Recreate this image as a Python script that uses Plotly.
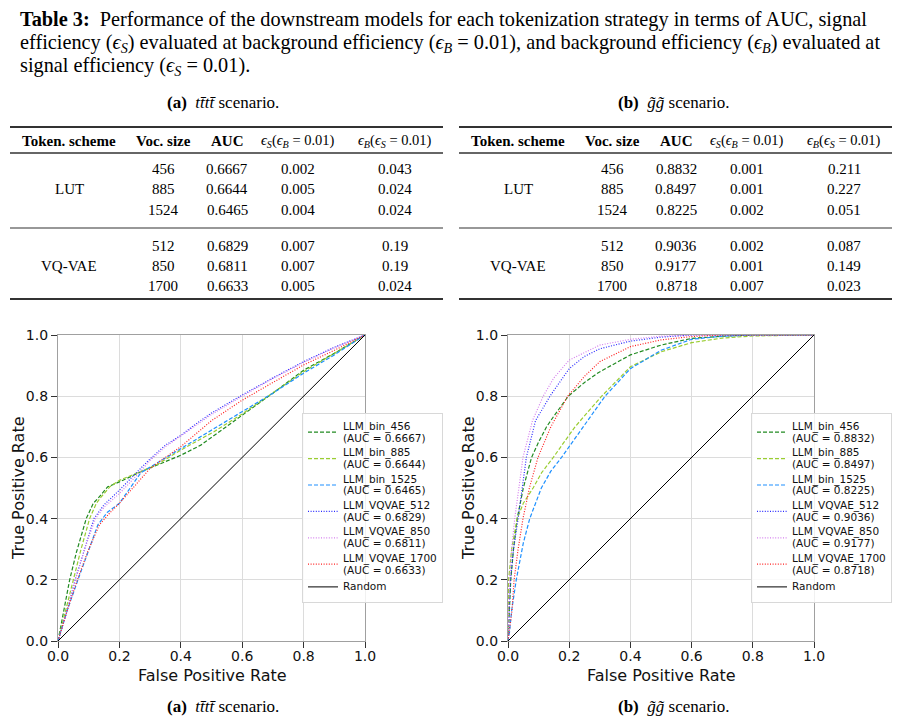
import plotly.graph_objects as go

W, H = 899, 721

# ---------------- data ----------------
table_cols = ["Token. scheme", "Voc. size", "AUC",
              "<i>ϵ<sub>S</sub></i>(<i>ϵ<sub>B</sub></i> = 0.01)",
              "<i>ϵ<sub>B</sub></i>(<i>ϵ<sub>S</sub></i> = 0.01)"]
schemes = ["LUT", "VQ-VAE"]
voc_sizes = [456, 885, 1524, 512, 850, 1700]

auc_tttt = ["0.6667", "0.6644", "0.6465", "0.6829", "0.6811", "0.6633"]
effS_tttt = ["0.002", "0.005", "0.004", "0.007", "0.007", "0.005"]
effB_tttt = ["0.043", "0.024", "0.024", "0.19", "0.19", "0.024"]

auc_gg = ["0.8832", "0.8497", "0.8225", "0.9036", "0.9177", "0.8718"]
effS_gg = ["0.001", "0.001", "0.002", "0.002", "0.001", "0.007"]
effB_gg = ["0.211", "0.227", "0.051", "0.087", "0.149", "0.023"]

model_names = ["LLM_bin_456", "LLM_bin_885", "LLM_bin_1525",
               "LLM_VQVAE_512", "LLM_VQVAE_850", "LLM_VQVAE_1700"]

x_title = "False Positive Rate"
y_title = "True Positive Rate"

# ROC curves, tttt scenario (FPR, TPR)
tttt_fpr = [
    [0, 0.02, 0.038, 0.06, 0.092, 0.115, 0.13, 0.162, 0.2, 0.27, 0.313, 0.4, 0.465, 0.508, 0.6, 0.7, 0.8, 0.9, 1.0],
    [0, 0.025, 0.049, 0.075, 0.103, 0.125, 0.14, 0.17, 0.2, 0.27, 0.32, 0.4, 0.508, 0.6, 0.7, 0.8, 0.9, 1.0],
    [0, 0.03, 0.065, 0.1, 0.13, 0.16, 0.2, 0.27, 0.32, 0.4, 0.5, 0.6, 0.7, 0.8, 0.9, 1.0],
    [0, 0.03, 0.056, 0.09, 0.117, 0.15, 0.2, 0.27, 0.3, 0.35, 0.4, 0.45, 0.5, 0.6, 0.7, 0.8, 0.9, 1.0],
    [0, 0.03, 0.056, 0.09, 0.122, 0.15, 0.2, 0.27, 0.3, 0.35, 0.4, 0.45, 0.5, 0.6, 0.7, 0.8, 0.9, 1.0],
    [0, 0.03, 0.063, 0.1, 0.135, 0.17, 0.2, 0.27, 0.3, 0.35, 0.4, 0.5, 0.6, 0.7, 0.8, 0.9, 1.0],
]
tttt_tpr = [
    [0, 0.1, 0.2, 0.29, 0.4, 0.45, 0.466, 0.504, 0.52, 0.553, 0.57, 0.607, 0.64, 0.672, 0.738, 0.81, 0.885, 0.94, 1.0],
    [0, 0.1, 0.2, 0.3, 0.4, 0.45, 0.47, 0.505, 0.525, 0.553, 0.575, 0.624, 0.684, 0.742, 0.81, 0.88, 0.94, 1.0],
    [0, 0.1, 0.2, 0.3, 0.38, 0.42, 0.45, 0.55, 0.58, 0.63, 0.69, 0.749, 0.81, 0.875, 0.935, 1.0],
    [0, 0.1, 0.2, 0.31, 0.4, 0.445, 0.493, 0.565, 0.595, 0.64, 0.672, 0.71, 0.745, 0.804, 0.86, 0.913, 0.96, 1.0],
    [0, 0.1, 0.2, 0.31, 0.4, 0.437, 0.482, 0.555, 0.59, 0.635, 0.67, 0.705, 0.74, 0.8, 0.858, 0.91, 0.958, 1.0],
    [0, 0.1, 0.2, 0.3, 0.38, 0.42, 0.45, 0.531, 0.564, 0.6, 0.635, 0.72, 0.787, 0.845, 0.902, 0.95, 1.0],
]

# ROC curves, gg scenario (FPR, TPR)
gg_fpr = [
    [0, 0.004, 0.009, 0.018, 0.03, 0.05, 0.077, 0.1, 0.126, 0.15, 0.197, 0.25, 0.295, 0.4, 0.5, 0.6, 0.7, 0.8, 1.0],
    [0, 0.001, 0.002, 0.012, 0.03, 0.05, 0.082, 0.11, 0.148, 0.219, 0.306, 0.4, 0.5, 0.6, 0.7, 0.8, 1.0],
    [0, 0.005, 0.012, 0.027, 0.05, 0.071, 0.109, 0.14, 0.175, 0.246, 0.317, 0.4, 0.5, 0.6, 0.7, 0.8, 1.0],
    [0, 0.003, 0.008, 0.018, 0.033, 0.06, 0.09, 0.137, 0.2, 0.25, 0.3, 0.4, 0.5, 0.6, 1.0],
    [0, 0.002, 0.005, 0.012, 0.022, 0.049, 0.08, 0.115, 0.15, 0.2, 0.3, 0.4, 0.5, 0.6, 1.0],
    [0, 0.006, 0.013, 0.02, 0.033, 0.049, 0.07, 0.098, 0.14, 0.195, 0.25, 0.3, 0.4, 0.5, 0.6, 0.7, 1.0],
]
gg_tpr = [
    [0, 0.1, 0.2, 0.3, 0.4, 0.5, 0.6, 0.65, 0.7, 0.735, 0.8, 0.845, 0.877, 0.935, 0.967, 0.989, 0.996, 1.0, 1.0],
    [0, 0.1, 0.2, 0.3, 0.4, 0.45, 0.5, 0.55, 0.6, 0.7, 0.8, 0.896, 0.945, 0.975, 0.99, 0.997, 1.0],
    [0, 0.03, 0.1, 0.2, 0.32, 0.4, 0.5, 0.555, 0.6, 0.7, 0.8, 0.89, 0.95, 0.986, 0.996, 1.0, 1.0],
    [0, 0.1, 0.2, 0.3, 0.4, 0.6, 0.72, 0.8, 0.89, 0.93, 0.955, 0.98, 0.993, 1.0, 1.0],
    [0, 0.1, 0.2, 0.3, 0.4, 0.6, 0.72, 0.8, 0.86, 0.918, 0.967, 0.986, 0.996, 1.0, 1.0],
    [0, 0.04, 0.1, 0.2, 0.3, 0.4, 0.5, 0.6, 0.7, 0.8, 0.865, 0.913, 0.962, 0.984, 0.995, 1.0, 1.0],
]

colors = ["#228B22", "#9ACD32", "#1E90FF", "#2a2aff", "#d580ee", "#ff2020"]
dashes = ["4px,2px", "4px,2px", "4px,2px", "1px,1.6px", "1px,1.6px", "1px,1.6px"]

# ---------------- helpers ----------------
def PX(x):
    return x / W

def PY(y):
    return 1 - y / H

SERIF = "Liberation Serif"
SANS = "DejaVu Sans"
LEG_TXT = '<span style="font-size:10.5px">{}</span>'

fig = go.Figure()

# ROC traces
for panel, (fprs, tprs, aucs) in enumerate([(tttt_fpr, tttt_tpr, auc_tttt), (gg_fpr, gg_tpr, auc_gg)]):
    xa = "x" if panel == 0 else "x2"
    ya = "y" if panel == 0 else "y2"
    lg = "legend" if panel == 0 else "legend2"
    for i in range(len(model_names)):
        fig.add_trace(go.Scatter(
            x=fprs[i], y=tprs[i], mode="lines", xaxis=xa, yaxis=ya, legend=lg,
            name=LEG_TXT.format(model_names[i]) + "<br>" + LEG_TXT.format(f"(AUC = {aucs[i]})"),
            line=dict(color=colors[i], width=1.2, dash=dashes[i]),
            hoverinfo="skip"))
    fig.add_trace(go.Scatter(
        x=[0, 1], y=[0, 1], mode="lines", xaxis=xa, yaxis=ya, legend=lg,
        name=LEG_TXT.format("Random"), line=dict(color="black", width=1), hoverinfo="skip"))

axis_common = dict(
    range=[0, 1], dtick=0.2, tickformat=".1f", showgrid=True, gridcolor="#dcdcdc",
    gridwidth=1, showline=True, mirror=True, linecolor="#a0a0a0", linewidth=1.2,
    ticks="outside", ticklen=6, tickwidth=1.4, tickcolor="#333", automargin=False,
    tickfont=dict(family=SANS, size=14, color="#111"), zeroline=False)

y_dom = [PY(641), PY(335)]
legend_common = dict(yanchor="top", xanchor="left",
                     bgcolor="rgba(255,255,255,0.85)", bordercolor="#d8d8d8", borderwidth=1,
                     font=dict(family=SANS, size=9, color="#111"), itemwidth=30,
                     tracegroupgap=0)
fig.update_layout(
    width=W, height=H, margin=dict(l=0, r=0, t=0, b=0),
    paper_bgcolor="white", plot_bgcolor="white", showlegend=True,
    xaxis=dict(domain=[PX(58), PX(365)], anchor="y", ticklabelstandoff=-4, **axis_common),
    yaxis=dict(domain=y_dom, anchor="x", **axis_common),
    xaxis2=dict(domain=[PX(508), PX(814)], anchor="y2", ticklabelstandoff=-4, **axis_common),
    yaxis2=dict(domain=y_dom, anchor="x2", **axis_common),
    legend=dict(x=PX(302), y=PY(413), **legend_common),
    legend2=dict(x=PX(751), y=PY(413), **legend_common),
)

annotations = []
shapes = []

def text(x, y, s, size=14, family=SERIF, xanchor="center", color="black", angle=0, align="center"):
    annotations.append(dict(x=PX(x), y=PY(y), xref="paper", yref="paper", text=s,
                            showarrow=False, xanchor=xanchor, yanchor="middle",
                            textangle=angle, align=align,
                            font=dict(family=family, size=size, color=color)))

def hline(x0, x1, y, w):
    shapes.append(dict(type="line", xref="paper", yref="paper", x0=PX(x0), x1=PX(x1),
                       y0=PY(y), y1=PY(y), line=dict(color="#333", width=w)))

# axis titles
for xc in (212, 661):
    text(xc, 675, x_title, size=16, family=SANS, color="#111")
for xc in (18, 468):
    text(xc, 488, y_title, size=16, family=SANS, color="#111", angle=-90)

# caption (line pitch set by outer font size -> ~22.7 px)
cap_lines = [
    "<b>Table 3:</b>  Performance of the downstream models for each tokenization strategy in terms of AUC, signal",
    "efficiency (<i>ϵ<sub>S</sub></i>) evaluated at background efficiency (<i>ϵ<sub>B</sub></i> = 0.01), and background efficiency (<i>ϵ<sub>B</sub></i>) evaluated at",
    "signal efficiency (<i>ϵ<sub>S</sub></i> = 0.01).",
]
caption = "<br>".join(f'<span style="font-size:20.3px">{ln}</span>' for ln in cap_lines)
annotations.append(dict(x=PX(18), y=PY(6), xref="paper", yref="paper", text=caption,
                        showarrow=False, xanchor="left", yanchor="top", align="left",
                        font=dict(family=SERIF, size=17.5, color="black")))

# sub-captions
sub_a = "<b>(a)</b>  <i>tt̄tt̄</i> scenario."
sub_b = "<b>(b)</b>  <i>g̃g̃</i> scenario."
text(223, 103, sub_a, size=17)
text(673, 103, sub_b, size=17)
text(223, 706, sub_a, size=17)
text(673, 706, sub_b, size=17)

# tables
def table(x_off, aucs, effS, effB):
    cx = [69, 163, 227, 298, 395]
    cx = [c + x_off for c in cx]
    hline(10 + x_off, 443 + x_off, 127, 2)
    for j, h in enumerate(table_cols):
        if j < 3:
            text(cx[j], 141, f"<b>{h}</b>", size=15)
        else:
            text(cx[j], 141, h, size=14.5)
    hline(10 + x_off, 443 + x_off, 153, 1.3)
    row_y = [169, 189, 210, 246, 266, 286]
    for r in range(6):
        text(cx[1], row_y[r], str(voc_sizes[r]), size=15)
        text(cx[2], row_y[r], aucs[r], size=15)
        text(cx[3], row_y[r], effS[r], size=15)
        text(cx[4], row_y[r], effB[r], size=15)
    text(cx[0], row_y[1], schemes[0], size=15)
    text(cx[0], row_y[4], schemes[1], size=15)
    hline(10 + x_off, 443 + x_off, 228, 1.1)
    hline(10 + x_off, 443 + x_off, 299, 2)

table(0, auc_tttt, effS_tttt, effB_tttt)
table(449, auc_gg, effS_gg, effB_gg)

fig.update_layout(annotations=annotations, shapes=shapes)
fig.write_html("out.html")
